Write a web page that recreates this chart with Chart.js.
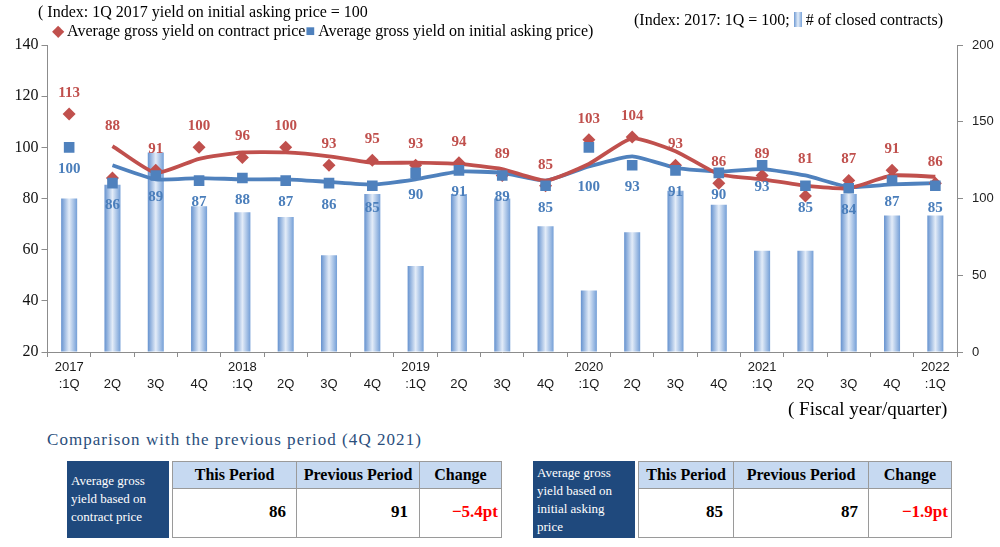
<!DOCTYPE html>
<html><head><meta charset="utf-8">
<script src="https://cdn.jsdelivr.net/npm/chart.js@4"></script>
<style>
html,body{margin:0;padding:0;background:#fff;width:1000px;height:547px;overflow:hidden;font-family:"Liberation Serif",serif;color:#000;}
#wrap{position:relative;width:1000px;height:547px;}
#c{position:absolute;left:0;top:0;}
.t{position:absolute;white-space:nowrap;line-height:1;}
.cell{position:absolute;box-sizing:border-box;border:1px solid #9a9a9a;}
.hd{background:#c6d9f1;font-weight:bold;font-size:16px;text-align:center;line-height:26px;}
.bd{background:#fff;font-weight:bold;font-size:17px;text-align:right;line-height:46px;}
.dk{position:absolute;background:#1f497d;color:#fff;font-size:13px;line-height:18px;padding:3px 0 0 4px;box-sizing:border-box;}
.red{color:#ff0000;}
</style></head>
<body><div id="wrap">
<canvas id="c" width="1000" height="400"></canvas>
<div class="t" style="left:38px;top:4px;font-size:16px;">(&nbsp;Index: 1Q 2017 yield on initial asking price = 100</div>
<div class="t" style="left:52px;top:23px;font-size:16px;"><span style="color:#c0504d">◆</span> Average gross yield on contract price<span style="color:#4f81bd">■</span> Average gross yield on initial asking price)</div>
<div class="t" style="left:634px;top:12px;font-size:16px;">(Index: 2017: 1Q = 100; <span style="display:inline-block;width:8px;height:15px;vertical-align:-2px;background:linear-gradient(90deg,#6f9ad3,#e2ecf8 50%,#7aa3d9);"></span> # of closed contracts)</div>
<div class="t" style="left:788px;top:399px;font-size:19px;">(&nbsp;Fiscal year/quarter)</div>
<div class="t" style="left:47px;top:431px;font-size:17px;color:#2a4e7c;letter-spacing:1.05px;">Comparison with the previous period (4Q 2021)</div>

<div class="dk" style="left:67px;top:461px;width:102px;height:77px;padding-top:11px;">Average gross<br>yield based on<br>contract price</div>
<div class="cell hd" style="left:172px;top:461px;width:125px;height:28px;">This Period</div>
<div class="cell hd" style="left:296px;top:461px;width:124px;height:28px;">Previous Period</div>
<div class="cell hd" style="left:419px;top:461px;width:83px;height:28px;">Change</div>
<div class="cell bd" style="left:172px;top:488px;width:125px;height:50px;padding-right:10px;">86</div>
<div class="cell bd" style="left:296px;top:488px;width:124px;height:50px;padding-right:11px;">91</div>
<div class="cell bd red" style="left:419px;top:488px;width:83px;height:50px;padding-right:3px;">−5.4pt</div>

<div class="dk" style="left:533px;top:461px;width:102px;height:77px;">Average gross<br>yield based on<br>initial asking<br>price</div>
<div class="cell hd" style="left:638px;top:461px;width:96px;height:28px;">This Period</div>
<div class="cell hd" style="left:733px;top:461px;width:136px;height:28px;">Previous Period</div>
<div class="cell hd" style="left:868px;top:461px;width:84px;height:28px;">Change</div>
<div class="cell bd" style="left:638px;top:488px;width:96px;height:50px;padding-right:10px;">85</div>
<div class="cell bd" style="left:733px;top:488px;width:136px;height:50px;padding-right:10px;">87</div>
<div class="cell bd red" style="left:868px;top:488px;width:84px;height:50px;padding-right:3px;">−1.9pt</div>
</div>
<script>
// ---- data ----
const yearLabels    = ["2017","","","","2018","","","","2019","","","","2020","","","","2021","","","","2022"];
const quarterLabels = [":1Q","2Q","3Q","4Q",":1Q","2Q","3Q","4Q",":1Q","2Q","3Q","4Q",":1Q","2Q","3Q","4Q",":1Q","2Q","3Q","4Q",":1Q"];
const contractYield = [113,88,91,100,96,100,93,95,93,94,89,85,103,104,93,86,89,81,87,91,86];
const askingYield   = [100,86,89,87,88,87,86,85,90,91,89,85,100,93,91,90,93,85,84,87,85];
const contractTrend = [null,100.5,90,95.5,98,98,96.5,94,94,93.5,91.5,87,93.5,103.5,98.5,89.5,87.5,85,84,89,88.5];
const askingTrend   = [null,93,87.5,88,87.5,87.5,86.5,85.5,87.5,90.5,90,87,92.5,96.5,92,90.5,91.5,89,84.5,85.5,86];
const closedContracts = [100,109,130,95,91,88,63,103,56,103,100,82,40,78,105,96,66,66,103,89,89];
const leftTicks  = [20,40,60,80,100,120,140];
const rightTicks = [0,50,100,150,200];

const labels = yearLabels.map((y, i) => [y, quarterLabels[i]]);
const RED = '#c0504d', BLUE = '#4f81bd';
const BAR_FRAC = 0.37;

function barFill(ctx) {
  const chart = ctx.chart, xs = chart.scales && chart.scales.x;
  const fallback = '#a9c4e6';
  if (!xs || ctx.type !== 'data') return fallback;
  const cx = xs.getPixelForValue(ctx.dataIndex);
  const w = (xs.width / labels.length) * BAR_FRAC;
  if (!isFinite(cx) || !isFinite(w) || w <= 0) return fallback;
  const g = chart.ctx.createLinearGradient(cx - w / 2, 0, cx + w / 2, 0);
  g.addColorStop(0, '#6592cf');
  g.addColorStop(0.5, '#e3ecf8');
  g.addColorStop(1, '#749fd7');
  return g;
}

const labelPlugin = {
  id: 'valueLabels',
  afterDatasetsDraw(chart, args, opts) {
    const c = chart.ctx;
    c.save();
    c.font = 'bold 15px "Liberation Serif", serif';
    c.textAlign = 'center';
    c.textBaseline = 'middle';
    opts.sets.forEach(s => {
      const meta = chart.getDatasetMeta(s.index);
      const vals = chart.data.datasets[s.index].data;
      meta.data.forEach((pt, i) => {
        if (vals[i] == null) return;
        const nudge = (s.nudge && s.nudge[i]) || 0;
        c.fillStyle = s.color;
        c.fillText(String(vals[i]), pt.x, pt.y + s.offset + nudge);
      });
    });
    c.restore();
  }
};

new Chart(document.getElementById('c'), {
  data: {
    labels,
    datasets: [
      { type: 'line', label: 'asking', data: askingYield, yAxisID: 'y', order: 1, showLine: false,
        pointStyle: 'rect', pointRadius: 7.5, backgroundColor: BLUE, borderColor: BLUE, borderWidth: 0 },
      { type: 'line', label: 'contract', data: contractYield, yAxisID: 'y', order: 2, showLine: false,
        pointStyle: 'rectRot', pointRadius: 6.5, backgroundColor: RED, borderColor: RED, borderWidth: 0 },
      { type: 'line', label: 'contractTrend', data: contractTrend, yAxisID: 'y', order: 3,
        borderColor: RED, borderWidth: 3.8, pointRadius: 0, tension: 0.18, fill: false },
      { type: 'line', label: 'askingTrend', data: askingTrend, yAxisID: 'y', order: 4,
        borderColor: BLUE, borderWidth: 3.8, pointRadius: 0, tension: 0.18, fill: false },
      { type: 'bar', label: '# of closed contracts', data: closedContracts, yAxisID: 'y1', order: 5,
        backgroundColor: barFill, borderWidth: 0, categoryPercentage: 1, barPercentage: BAR_FRAC }
    ]
  },
  options: {
    responsive: false,
    animation: false,
    events: [],
    layout: { padding: { top: 45, left: 0, right: 0, bottom: 0 } },
    plugins: {
      legend: { display: false },
      tooltip: { enabled: false },
      valueLabels: {
        sets: [
          { index: 1, color: '#c0504d', offset: -21, nudge: { 1: -31, 17: -16 } },
          { index: 0, color: '#4a7ebb', offset: 22, nudge: { 12: 18 } }
        ]
      }
    },
    scales: {
      x: {
        type: 'category',
        offset: true,
        grid: { display: true, drawOnChartArea: false, offset: true, tickLength: 5, color: '#8c8c8c', tickColor: '#8c8c8c' },
        border: { color: '#8c8c8c', width: 1 },
        ticks: { autoSkip: false, maxRotation: 0, minRotation: 0, padding: 1, color: '#1a1a1a',
                 font: { family: '"Liberation Sans", Arial, sans-serif', size: 13, lineHeight: 1.38 } },
        afterFit(s) { s.height = 48; }
      },
      y: {
        position: 'left', min: 20, max: 140,
        afterBuildTicks(s) { s.ticks = leftTicks.map(v => ({ value: v })); },
        grid: { display: true, drawOnChartArea: false, tickLength: 6, color: '#8c8c8c', tickColor: '#8c8c8c' },
        border: { color: '#8c8c8c', width: 1 },
        ticks: { color: '#111', padding: 3, font: { family: '"Liberation Serif", serif', size: 16 } },
        afterFit(s) { s.width = 47.5; }
      },
      y1: {
        position: 'right', min: 0, max: 200,
        afterBuildTicks(s) { s.ticks = rightTicks.map(v => ({ value: v })); },
        grid: { display: true, drawOnChartArea: false, tickLength: 6, color: '#8c8c8c', tickColor: '#8c8c8c' },
        border: { color: '#8c8c8c', width: 1 },
        ticks: { color: '#222', padding: 9, font: { family: '"Liberation Sans", Arial, sans-serif', size: 13 } },
        afterFit(s) { s.width = 43; }
      }
    }
  },
  plugins: [labelPlugin]
});
</script>
</body></html>
